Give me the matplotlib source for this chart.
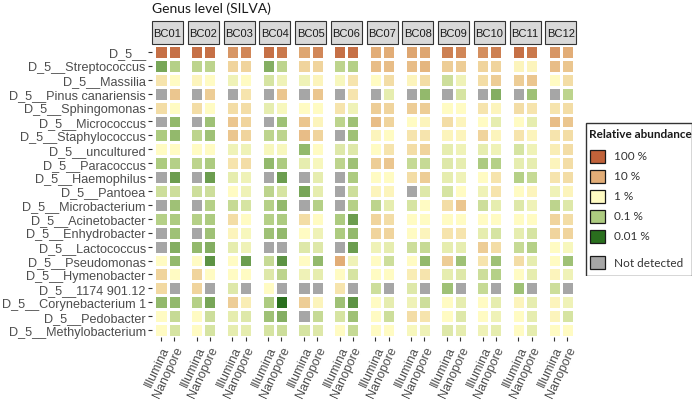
import numpy as np
import matplotlib
matplotlib.use("Agg")
import matplotlib.pyplot as plt
from matplotlib.colors import LinearSegmentedColormap, Normalize
from matplotlib.patches import Rectangle

# ---------------- data (log10 of relative abundance in %, None = not detected)
genera = ["D_5__", "D_5__Streptococcus", "D_5__Massilia", "D_5__Pinus canariensis",
          "D_5__Sphingomonas", "D_5__Micrococcus", "D_5__Staphylococcus", "D_5__uncultured",
          "D_5__Paracoccus", "D_5__Haemophilus", "D_5__Pantoea", "D_5__Microbacterium",
          "D_5__Acinetobacter", "D_5__Enhydrobacter", "D_5__Lactococcus", "D_5__Pseudomonas",
          "D_5__Hymenobacter", "D_5__1174 901.12", "D_5__Corynebacterium 1", "D_5__Pedobacter",
          "D_5__Methylobacterium"]
samples = ["BC01", "BC02", "BC03", "BC04", "BC05", "BC06",
           "BC07", "BC08", "BC09", "BC10", "BC11", "BC12"]
methods = ["Illumina", "Nanopore"]

BC01_I = [1.8, -1.4, 0.3, None, 0.4, None, -1.0, 0, -1.0, None, -0.6, None, -0.9, None, None, 0, 0.5, 0.45, -1.2, 0, 0]
BC01_N = [1.8, -0.9, 0, 0.7, 0, -1.2, -1.2, 0, -0.9, -1.5, -0.6, -1.1, -1.0, -1.1, -1.3, -1.2, 0, None, -1.2, -0.7, -0.5]
BC02_I = [1.8, -0.8, 0.1, None, 0.4, None, -0.8, 0, -0.8, None, -0.6, None, -0.9, None, -1.2, 0, 0.5, 0.5, -0.9, 0, 0]
BC02_N = [1.8, -0.8, 0, 0.6, 0, -1.1, -1.1, 0, -1.0, -1.5, -0.6, -0.9, -1.0, -1.1, -1.3, -1.6, 0, None, -1.4, -0.6, -0.5]
BC03_I = [1.3, 0.5, -0.2, None, 0.4, 0.7, 0.7, -0.2, 0.3, -0.3, 0, -0.7, 0.4, 0.1, -0.3, 0, 0, -0.4, 0.6, -0.3, -0.3]
BC03_N = [1.5, 0.5, 0, 0.3, 0.4, 0.5, 0.5, -0.2, 0.4, -0.2, -0.2, -0.5, 0, -0.1, -0.2, -1.5, 0, None, 0.2, -0.4, -0.3]
BC04_I = [1.8, -1.3, -0.5, None, -0.3, None, -0.8, -0.1, -1.2, None, -0.8, -0.9, -0.9, -1.1, None, -0.7, -0.4, 0, -1.0, -1.1, -0.5]
BC04_N = [1.7, -0.8, -0.2, 0.7, -0.1, -1.1, -0.8, -0.1, -1.0, -1.5, -0.5, -1.2, -1.0, -1.2, None, -1.6, -0.8, None, -2.0, -1.3, -0.6]
BC05_I = [1.1, 0.5, -0.2, None, 0, 0.7, 0.8, -1.2, -0.3, None, -1.4, None, 0.4, 0, -0.4, 0, -0.2, None, 0.6, None, -0.5]
BC05_N = [1.5, 0.5, 0.1, 0.7, 0, 0.1, 0.5, 0, -0.1, -0.3, -0.3, -0.9, 0, -0.2, -0.4, -1.2, -0.3, None, 0.1, -0.7, -0.4]
BC06_I = [1.8, -0.8, -0.1, None, 0.3, -0.8, None, -0.4, -0.8, None, None, None, -1.0, -1.0, None, 1.0, 0, 0.3, -1.1, -0.5, 0]
BC06_N = [1.8, -0.9, 0.3, 0.3, -0.2, -1.1, -1.1, -0.4, -1.1, -1.0, -0.6, -0.9, -1.5, -1.2, -1.5, -0.2, -0.5, None, -1.6, -1.1, -0.7]
BC07_I = [1.0, 0.8, 0, None, 0.6, 0.8, 0.1, 0, 0.6, 0, 0.1, -0.8, 0.5, 0.5, -0.2, 0, 0, -0.6, 0, 0, 0]
BC07_N = [1.0, 0.8, 0.4, -0.3, 0.5, 0.5, 0, 0.3, 0.7, 0, 0.1, -0.3, 0.4, 0.5, -0.3, -0.6, 0, None, -0.3, -0.6, 0]
BC08_I = [1.1, 0.8, 0.1, None, 0.6, 0, 0.3, 0.4, -0.7, 0.4, None, -0.5, 0, 0, -0.6, 0, 0.2, -0.4, -0.2, 0.4, -0.1]
BC08_N = [1.1, 0.9, 0.4, -1.2, 0.6, 0.1, 0.3, 0.5, -0.7, 0.6, -0.4, 0, 0, 0.1, -0.7, -1.2, 0.3, None, -0.6, 0.3, -0.2]
BC09_I = [1.6, 0.6, -0.6, None, 0, 0.4, 0.1, -0.3, -0.4, -0.3, -0.5, 0.4, 0, 0.3, -0.3, 0.6, -0.3, -1.1, 0, 0, -0.4]
BC09_N = [1.5, 0.6, -0.2, -0.5, 0, 0.1, 0.1, -0.2, -0.3, -0.2, 0, 0.7, 0, 0.3, -0.3, -1.1, -0.4, None, -0.3, -0.4, -0.3]
BC10_I = [1.4, 0.5, 0.4, None, 0.3, 0, 0.5, -0.3, -1.0, 0, -0.2, -0.6, 0, -0.3, 0.6, 0.3, -0.6, -0.7, 0, 0, -0.2]
BC10_N = [1.6, 0.5, 0.6, -1.3, 0.1, -0.3, 0.1, -0.2, -0.9, 0.3, 0.3, -0.3, 0, -0.5, 0.4, -1.1, -0.9, None, -0.3, -0.2, -0.3]
BC11_I = [1.8, 0.1, 0.6, None, 0.4, 0, 0.3, -0.5, -0.3, -0.9, 0, -0.4, 0, -0.3, -0.7, 0.4, 0, -1.1, 0.1, 0, 0]
BC11_N = [1.7, 0.1, 0.7, -1.1, 0.3, -0.3, 0.1, -0.2, -0.3, -0.7, 0.1, -0.2, 0, -0.5, -0.9, -0.3, -0.3, None, -0.3, -0.3, -0.3]
BC12_I = [1.3, 0.8, 0, None, 0.3, 0.8, 0.3, 0.2, 0.1, 0.3, -0.2, -0.8, 0.5, 0.5, 0, 0, 0.1, -0.6, 0.1, 0.1, 0]
BC12_N = [1.0, 0.7, 0.4, -0.8, 0.4, 0.7, 0.4, 0.4, 0.4, 0.4, 0.1, -0.4, 0.4, 0.5, -0.1, -1.1, -0.2, None, -0.2, -0.5, 0]

series = {
    "BC01": (BC01_I, BC01_N), "BC02": (BC02_I, BC02_N), "BC03": (BC03_I, BC03_N),
    "BC04": (BC04_I, BC04_N), "BC05": (BC05_I, BC05_N), "BC06": (BC06_I, BC06_N),
    "BC07": (BC07_I, BC07_N), "BC08": (BC08_I, BC08_N), "BC09": (BC09_I, BC09_N),
    "BC10": (BC10_I, BC10_N), "BC11": (BC11_I, BC11_N), "BC12": (BC12_I, BC12_N),
}

legend_labels = ["100 %", "10 %", "1 %", "0.1 %", "0.01 %"]
legend_levels = [2, 1, 0, -1, -2]
nd_label = "Not detected"

# ---------------- styling
W, H = 697, 402
fig = plt.figure(figsize=(W / 100, H / 100), dpi=100)
fig.patch.set_facecolor("white")

cmap = LinearSegmentedColormap.from_list(
    "abund", [(0.0, "#2A6F1E"), (0.25, "#ADCB80"), (0.5, "#FFFCC4"),
              (0.75, "#E2AE78"), (1.0, "#C0623A")])
cmap.set_bad("#A6A6A6")
norm = Normalize(vmin=-2, vmax=2)

AXFONT = "Liberation Sans"
TXT = "#4D4D4D"

top_px, bot_px = 46, 338
panel_w = 31
pitch = 35.75
x0 = 152

for k, s in enumerate(samples):
    left = x0 + pitch * k
    ax = fig.add_axes([left / W, (H - bot_px) / H, panel_w / W, (bot_px - top_px) / H])
    cols = [[np.nan if v is None else v for v in col] for col in series[s]]
    data = np.ma.masked_invalid(np.array(cols, dtype=float).T)
    ax.pcolormesh(np.arange(len(methods) + 1) - 0.5, np.arange(len(genera) + 1) - 0.5, data,
                  cmap=cmap, norm=norm, edgecolors="white", linewidth=1.0)
    ax.set_xlim(-0.69, 1.69)
    ax.set_ylim(len(genera) - 0.5, -0.5)
    for sp in ax.spines.values():
        sp.set_visible(False)
    ax.set_xticks(range(len(methods)))
    ax.set_xticklabels(methods, rotation=65, ha="right", va="top", rotation_mode="anchor",
                       fontsize=9, color=TXT, family=AXFONT)
    ax.tick_params(axis="x", length=3, width=0.8, color="#333333", pad=2)
    if k == 0:
        ax.set_yticks(range(len(genera)))
        ax.set_yticklabels(genera, fontsize=9.1, color=TXT, family=AXFONT)
        ax.tick_params(axis="y", length=3, width=0.8, color="#333333", pad=1.5)
    else:
        ax.set_yticks([])
    hpx = bot_px - top_px
    strip_bottom = 1 + 1.0 / hpx
    strip_h = 23.0 / hpx
    ax.add_patch(Rectangle((0, strip_bottom), 1, strip_h, transform=ax.transAxes,
                           clip_on=False, facecolor="#D9D9D9", edgecolor="#333333", lw=0.8))
    ax.text(0.5, strip_bottom + strip_h / 2, s, transform=ax.transAxes, ha="center",
            va="center", fontsize=8, family=AXFONT, color="#1A1A1A")

fig.text(x0 / W, 1 - 9 / H, "Genus level (SILVA)", fontsize=10, family="Lato",
         ha="left", va="center", color="#1A1A1A")

# ---------------- legend
lx, ly, lw_, lh = 585, 123, 107, 154
lax = fig.add_axes([lx / W, (H - ly - lh) / H, lw_ / W, lh / H])
lax.set_xlim(0, lw_)
lax.set_ylim(lh, 0)
lax.axis("off")
lax.add_patch(Rectangle((0.5, 0.5), lw_ - 1, lh - 1, facecolor="white", edgecolor="#333333", lw=1.0))
lax.text(4, 12, "Relative abundance", fontsize=8.5, fontweight="bold", family="Lato",
         va="center", ha="left", color="#1A1A1A")
centers = [34, 54, 74, 94, 114]
for c, lab, lev in zip(centers, legend_labels, legend_levels):
    lax.add_patch(Rectangle((5, c - 6.5), 15, 13, facecolor=cmap(norm(lev)),
                            edgecolor="#1A1A1A", lw=0.9))
    lax.text(29, c, lab, fontsize=8.5, family="Lato", va="center", ha="left", color="#333333")
c = 140.5
lax.add_patch(Rectangle((5, c - 6.5), 15, 13, facecolor="#A6A6A6", edgecolor="#1A1A1A", lw=0.9))
lax.text(29, c, nd_label, fontsize=8.5, family="Lato", va="center", ha="left", color="#333333")

fig.savefig("out.png", dpi=100)
